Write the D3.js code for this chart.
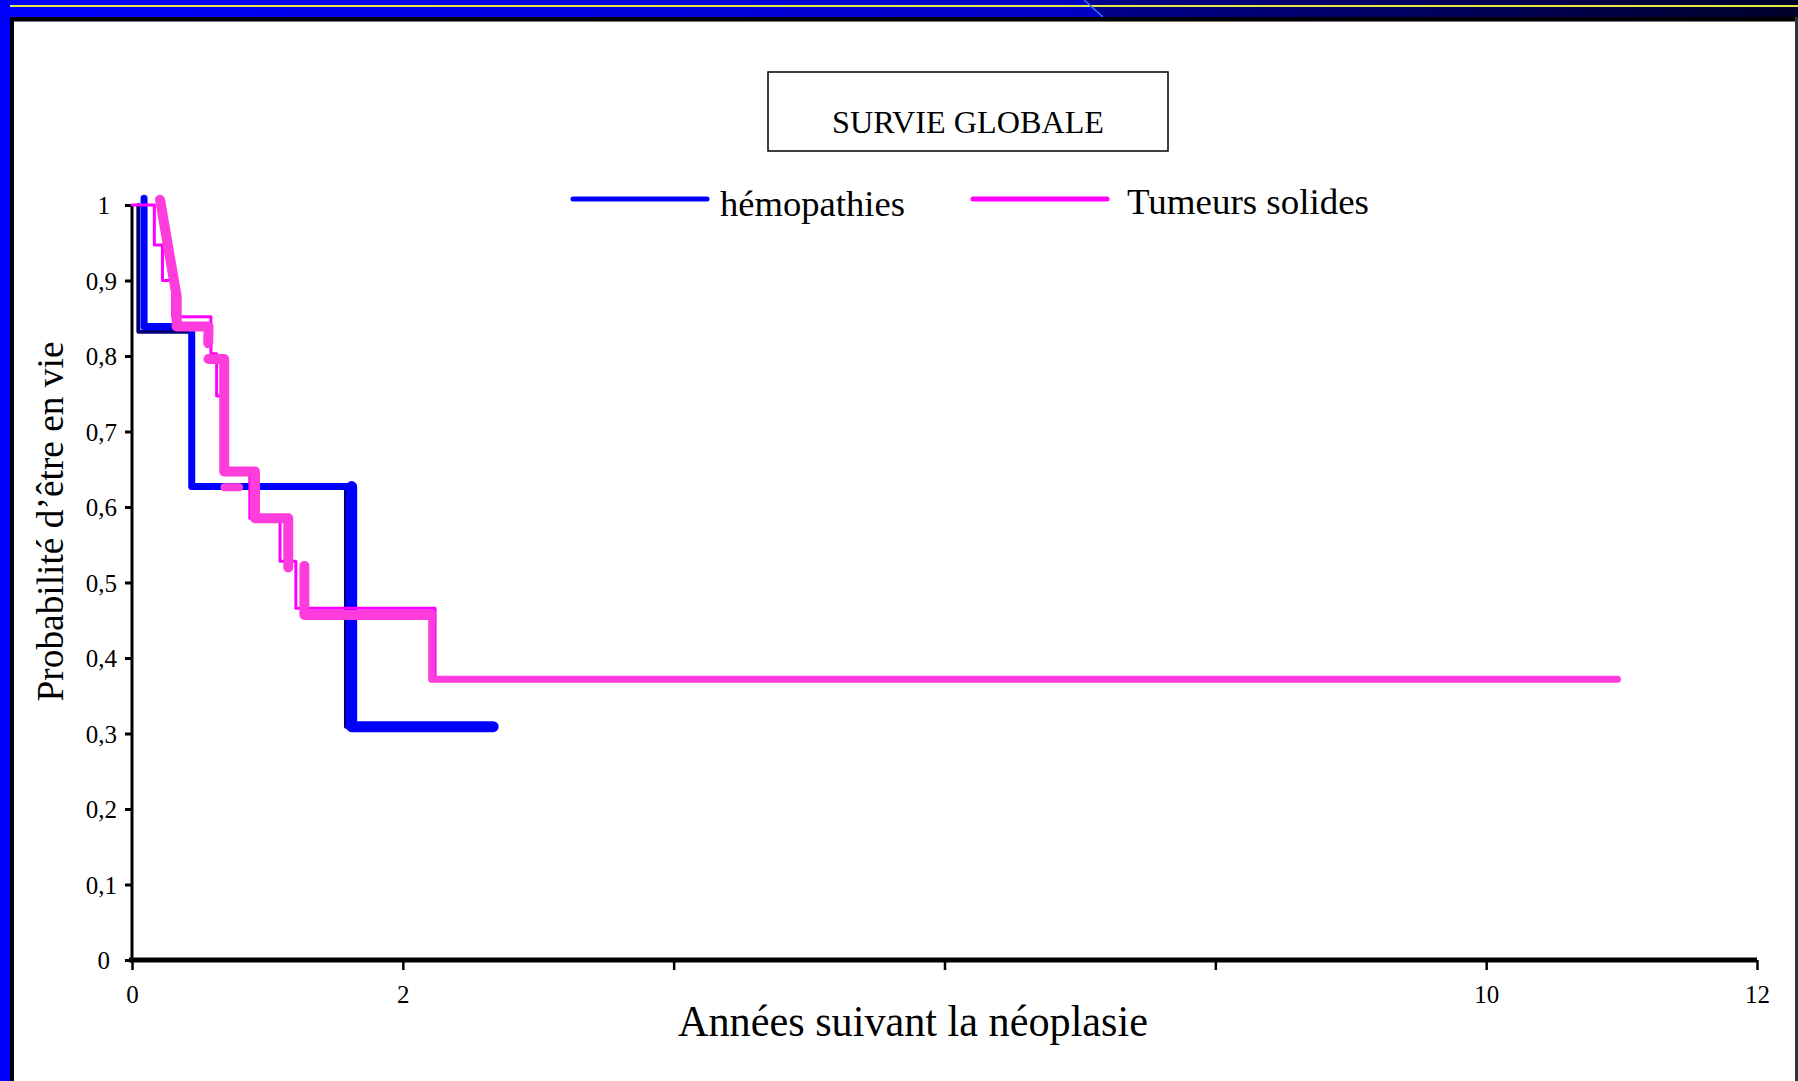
<!DOCTYPE html>
<html>
<head>
<meta charset="utf-8">
<script src="https://cdn.jsdelivr.net/npm/d3@7"></script>
<style>
  html, body { margin: 0; padding: 0; background: #fff; }
  svg { display: block; }
  text { font-family: "Liberation Serif", "Times New Roman", serif; fill: #000; }
</style>
</head>
<body>
<svg id="chart" width="1798" height="1081"></svg>
<script>
// ---------------- DATA ----------------
const chartTitle = "SURVIE GLOBALE";
const xTitle = "Années suivant la néoplasie";
const yTitle = "Probabilité d’être en vie";
const seriesNames = ["hémopathies", "Tumeurs solides"];

const xTicks = [0, 2, 4, 6, 8, 10, 12];
const xTickLabels = ["0", "2", "", "", "", "10", "12"];
const yTicks = [0, 0.1, 0.2, 0.3, 0.4, 0.5, 0.6, 0.7, 0.8, 0.9, 1];
const yTickLabels = ["0", "0,1", "0,2", "0,3", "0,4", "0,5", "0,6", "0,7", "0,8", "0,9", "1"];

// hémopathies : [years, survival]
const hemoShadow = [[0.047, 1], [0.047, 0.832], [0.44, 0.832], [0.44, 0.627], [1.58, 0.627], [1.58, 0.309], [2.62, 0.309]];
const hemoUpper  = [[0.089, 1.009], [0.089, 0.839], [0.441, 0.839], [0.441, 0.627], [1.622, 0.627]];
const hemoLower  = [[1.622, 0.627], [1.622, 0.309], [2.667, 0.309]];

// Tumeurs solides : thin step trace
const tumThin = [[0, 1], [0.165, 1], [0.165, 0.947], [0.225, 0.947], [0.225, 0.9], [0.30, 0.9], [0.30, 0.852],
  [0.583, 0.852], [0.583, 0.803], [0.625, 0.803], [0.625, 0.747], [0.68, 0.747], [0.68, 0.647],
  [0.87, 0.647], [0.87, 0.585], [1.093, 0.585], [1.093, 0.528], [1.21, 0.528], [1.21, 0.466],
  [2.238, 0.466], [2.238, 0.372], [10.97, 0.372]];
// Tumeurs solides : thick trace pieces
const tumThickA = [[0.207, 1.007], [0.330, 0.879], [0.330, 0.839], [0.565, 0.839], [0.563, 0.817]];
const tumThickB = [[0.565, 0.796], [0.681, 0.796], [0.681, 0.647], [0.908, 0.647], [0.908, 0.585], [1.154, 0.585], [1.154, 0.520]];
const tumThickC = [[1.273, 0.522], [1.273, 0.457], [2.213, 0.457]];
const tumThickD = [[2.213, 0.457], [2.213, 0.372], [10.97, 0.372]];
const tumThickE = [[0.683, 0.626], [0.79, 0.626]];

// ---------------- DRAW ----------------
const svg = d3.select("#chart");
const W = 1798, H = 1081;
const defs = svg.append("defs");
const g1 = defs.append("linearGradient").attr("id", "bandL").attr("x1", "0").attr("x2", "1").attr("y1", "0").attr("y2", "0");
g1.append("stop").attr("offset", "0").attr("stop-color", "#0000ff");
g1.append("stop").attr("offset", "1").attr("stop-color", "#0000c4");
const g2 = defs.append("linearGradient").attr("id", "bandR").attr("x1", "0").attr("x2", "1").attr("y1", "0").attr("y2", "0");
g2.append("stop").attr("offset", "0").attr("stop-color", "#00008e");
g2.append("stop").attr("offset", "1").attr("stop-color", "#00002a");

// frame
svg.append("rect").attr("x", 0).attr("y", 0).attr("width", W).attr("height", H).attr("fill", "#fff");
svg.append("polygon").attr("points", `0,0 1084,0 1103,17 0,17`).attr("fill", "url(#bandL)");
svg.append("polygon").attr("points", `1084,0 ${W},0 ${W},17 1103,17`).attr("fill", "url(#bandR)");
svg.append("rect").attr("x", 0).attr("y", 5).attr("width", W).attr("height", 2).attr("fill", "#e6e640");
svg.append("rect").attr("x", 10).attr("y", 17).attr("width", W - 10).attr("height", 4).attr("fill", "#000");
svg.append("rect").attr("x", 14).attr("y", 21).attr("width", W - 14).attr("height", 1).attr("fill", "#777");
svg.append("line").attr("x1", 1084).attr("y1", 0).attr("x2", 1103).attr("y2", 17).attr("stroke", "#3a6cff").attr("stroke-width", 1.5);
svg.append("line").attr("x1", 1103).attr("y1", 17).attr("x2", 1108).attr("y2", 21).attr("stroke", "#000").attr("stroke-width", 1.5);
svg.append("rect").attr("x", 0).attr("y", 0).attr("width", 10).attr("height", H).attr("fill", "#0000ff");
svg.append("rect").attr("x", 10).attr("y", 17).attr("width", 4).attr("height", H - 17).attr("fill", "#000");
svg.append("rect").attr("x", W - 3).attr("y", 17).attr("width", 3).attr("height", H - 17).attr("fill", "#333");

// scales
const x = d3.scaleLinear().domain([0, 12]).range([132, 1757]);
const y = d3.scaleLinear().domain([0, 1]).range([960, 205]);

// title box
svg.append("rect").attr("x", 768).attr("y", 72).attr("width", 400).attr("height", 79)
  .attr("fill", "none").attr("stroke", "#000").attr("stroke-width", 1.5);
svg.append("text").attr("x", 968).attr("y", 133).attr("text-anchor", "middle")
  .attr("font-size", 32).attr("textLength", 272).attr("lengthAdjust", "spacingAndGlyphs").text(chartTitle);

// legend
const legend = [
  { name: seriesNames[0], color: "#0000ff", x1: 573, x2: 707, tx: 720, ty: 216, len: 185 },
  { name: seriesNames[1], color: "#ff00ff", x1: 973, x2: 1107, tx: 1127, ty: 214, len: 242 }
];
legend.forEach(l => {
  svg.append("line").attr("x1", l.x1).attr("x2", l.x2).attr("y1", 199).attr("y2", 199)
    .attr("stroke", l.color).attr("stroke-width", 5).attr("stroke-linecap", "round");
  svg.append("text").attr("x", l.tx).attr("y", l.ty).attr("font-size", 36)
    .attr("textLength", l.len).attr("lengthAdjust", "spacingAndGlyphs").text(l.name);
});

// axes
const yAxis = d3.axisLeft(y).tickValues(yTicks).tickSize(7).tickFormat((d, i) => yTickLabels[i]);
const ya = svg.append("g").attr("transform", `translate(${x(0)},0)`).call(yAxis);
ya.select(".domain").attr("stroke", "#000").attr("stroke-width", 3).attr("d", `M0,${y(1)}V${y(0) + 2}`);
ya.selectAll(".tick line").attr("stroke", "#000").attr("stroke-width", 3);
ya.selectAll(".tick text").attr("font-family", "Liberation Serif").attr("font-size", 25).attr("fill", "#000")
  .attr("x", (d, i) => yTickLabels[i].length > 1 ? -15 : -22).attr("dy", "0.34em");

const xAxis = d3.axisBottom(x).tickValues(xTicks).tickSize(10).tickFormat((d, i) => xTickLabels[i]);
const xa = svg.append("g").attr("transform", `translate(0,${y(0)})`).call(xAxis);
xa.select(".domain").attr("stroke", "#000").attr("stroke-width", 5).attr("d", `M${x(0) - 3},0H${x(12)}`);
xa.selectAll(".tick line").attr("stroke", "#000").attr("stroke-width", 2.5);
xa.selectAll(".tick text").attr("font-family", "Liberation Serif").attr("font-size", 25).attr("fill", "#000")
  .attr("y", 43).attr("dy", null);

// axis titles
svg.append("text").attr("x", 913).attr("y", 1036).attr("text-anchor", "middle").attr("font-size", 44)
  .attr("textLength", 470).attr("lengthAdjust", "spacingAndGlyphs").text(xTitle);
svg.append("text").attr("transform", "translate(63,521.5) rotate(-90)").attr("text-anchor", "middle")
  .attr("font-size", 38).attr("textLength", 360).attr("lengthAdjust", "spacingAndGlyphs").text(yTitle);

// curves
const line = d3.line().x(d => x(d[0])).y(d => y(d[1]));
function trace(data, color, width) {
  svg.append("path").attr("d", line(data)).attr("fill", "none").attr("stroke", color)
    .attr("stroke-width", width).attr("stroke-linecap", "round").attr("stroke-linejoin", "round");
}
trace(hemoShadow, "#00007a", 4);
trace(hemoUpper, "#0000ff", 7);
trace(hemoLower, "#0000ff", 11);
trace(tumThin, "#ff00ff", 3);
trace(tumThickA, "#ff3cdc", 10);
trace(tumThickB, "#ff3cdc", 10);
trace(tumThickC, "#ff3cdc", 10);
trace(tumThickD, "#ff3cdc", 7);
trace(tumThickE, "#ff3cdc", 8);
</script>
</body>
</html>
